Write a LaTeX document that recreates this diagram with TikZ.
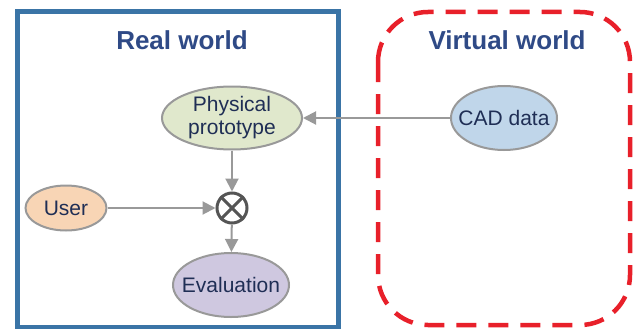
\documentclass[tikz,border=0pt]{standalone}
\usepackage{fontspec}
\setmainfont{Liberation Sans}
\usetikzlibrary{arrows.meta, positioning, shapes.geometric}
\definecolor{frameblue}{HTML}{3A74A6}
\definecolor{titleblue}{HTML}{2F4A86}
\definecolor{textnavy}{HTML}{1F2E55}
\definecolor{linegray}{HTML}{999999}
\definecolor{dashred}{HTML}{E8202A}
\definecolor{fillgreen}{HTML}{E0E8CC}
\definecolor{fillblue}{HTML}{C0D6EA}
\definecolor{fillorange}{HTML}{F8D5B5}
\definecolor{fillviolet}{HTML}{CFC8E0}
\definecolor{crossgray}{HTML}{555555}

\begin{document}
\begin{tikzpicture}[x=1pt,y=-1pt,>={Triangle[length=13pt,width=13pt]},
      every node/.style={font=\fontsize{21}{23}\selectfont,text=textnavy},
      blob/.style={ellipse,draw=linegray,line width=2pt,inner sep=0pt},
      world/.style={font=\fontsize{26}{28}\selectfont\bfseries,text=titleblue},
      flow/.style={->,draw=linegray,line width=2pt}]
      \useasboundingbox (0,0) rectangle (634,329);
      % frames
      \draw[frameblue,line width=5pt] (17.5,11.5) rectangle (338.5,327);
      \draw[dashred,line width=4.5pt,dash pattern=on 20pt off 12pt,rounded corners=50pt]
        (378,12) rectangle (630,325);
      \node[world] (real) at (182,40) {Real world};
      \node[world] (virtual) at (507,40) {Virtual world};
      % nodes
      \node[blob,fill=fillgreen,minimum width=140pt,minimum height=63pt,
        label={[align=center,font=\fontsize{21}{23}\selectfont]center:Physical\\prototype}] (proto) at (232,118) {};
      \node[blob,fill=fillblue,minimum width=106pt,minimum height=64pt,label=center:CAD data] (cad) at (504,118) {};
      \node[circle,draw=crossgray,fill=white,line width=3pt,minimum size=30pt,inner sep=0pt] (mult) at (232,208) {};
      \draw[crossgray,line width=3pt] (mult.45) -- (mult.225) (mult.135) -- (mult.315);
      \node[blob,fill=fillorange,minimum width=81pt,minimum height=45pt,label=center:User] (user) at (66,208) {};
      \node[blob,fill=fillviolet,minimum width=116pt,minimum height=64pt,label=center:Evaluation] (eval) at (231,285) {};
      % connectors
      \draw[flow] (cad) -- (proto);
      \draw[flow] (proto) -- (mult);
      \draw[flow] (user) -- (mult);
      \draw[flow] (mult) -- (eval);
\end{tikzpicture}
\end{document}
